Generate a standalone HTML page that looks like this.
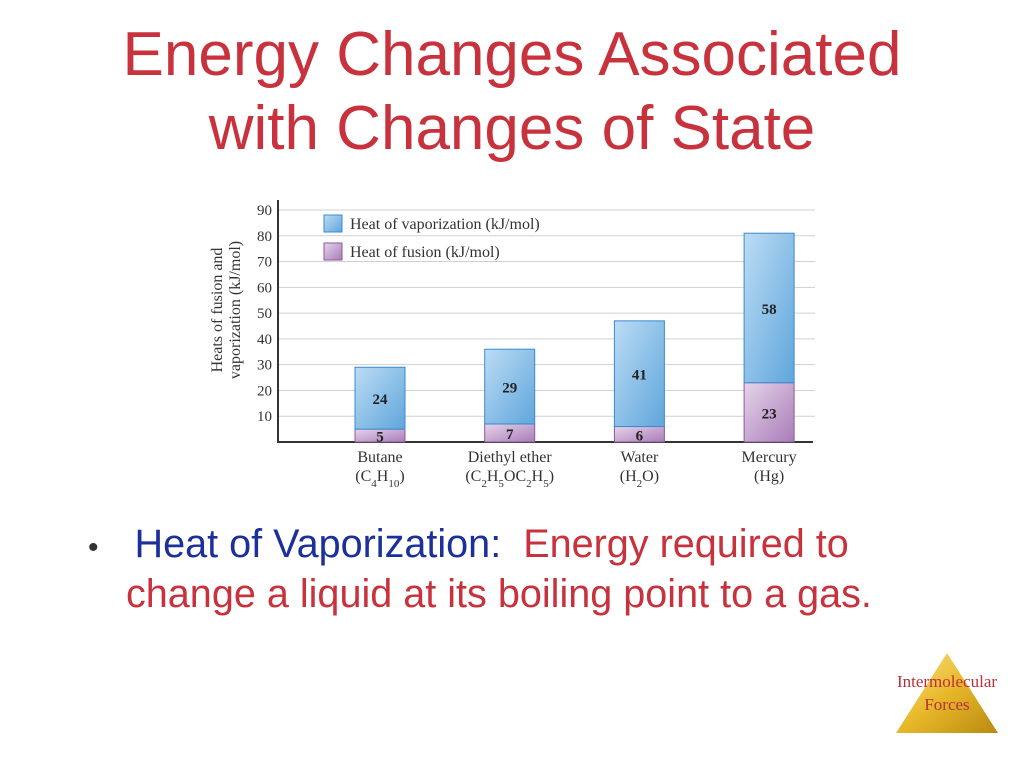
<!DOCTYPE html>
<html><head><meta charset="utf-8"><style>
body{margin:0;width:1024px;height:768px;background:#fff;overflow:hidden;position:relative;font-family:"Liberation Sans",sans-serif}
.title{position:absolute;left:0;width:1024px;top:18px;text-align:center;color:#c8323c;font-size:62px;line-height:74px}
.bullet{position:absolute;left:86px;top:521px;font-size:39.6px;line-height:46px;color:#c8323c;white-space:nowrap}
</style></head><body>
<div class="title">Energy Changes Associated<br>with Changes of State</div>
<svg id="chart" width="1024" height="768" style="position:absolute;left:0;top:0" font-family="Liberation Serif, serif">
<defs>
<linearGradient id="gv" x1="0" y1="0" x2="1" y2="1"><stop offset="0" stop-color="#bcdcf4"/><stop offset="1" stop-color="#5fa6dc"/></linearGradient>
<linearGradient id="gf" x1="0" y1="0" x2="1" y2="1"><stop offset="0" stop-color="#e6d4ea"/><stop offset="1" stop-color="#a87cb8"/></linearGradient>
<linearGradient id="gt" x1="0" y1="0" x2="1" y2="1"><stop offset="0" stop-color="#fbe58a"/><stop offset="0.5" stop-color="#e8b82a"/><stop offset="1" stop-color="#b88a10"/></linearGradient>
</defs>
</svg>
<div class="bullet"><span style="color:#333;font-size:30px;position:relative;left:2px">•</span><span style="display:inline-block;width:38px"></span><span style="color:#1c2f9a">Heat of Vaporization:</span>&nbsp; Energy required to<br><span style="padding-left:40px">change a liquid at its boiling point to a gas.</span></div>
<script>
const categories=["Butane","Diethyl ether","Water","Mercury"];
const formulas=['(C<tspan baseline-shift="sub" font-size="11">4</tspan>H<tspan baseline-shift="sub" font-size="11">10</tspan>)','(C<tspan baseline-shift="sub" font-size="11">2</tspan>H<tspan baseline-shift="sub" font-size="11">5</tspan>OC<tspan baseline-shift="sub" font-size="11">2</tspan>H<tspan baseline-shift="sub" font-size="11">5</tspan>)','(H<tspan baseline-shift="sub" font-size="11">2</tspan>O)','(Hg)'];
const fusion=[5,7,6,23];
const vaporization=[24,29,41,58];
const yTicks=[10,20,30,40,50,60,70,80,90];
const ns="http://www.w3.org/2000/svg";
const svg=document.getElementById('chart');
const x0=278,x1=815,yb=442,yt=210;
const y=v=>yb-(yb-yt)*v/90;
const xc=i=>380+i*129.7;
function mk(t,a,p){const e=document.createElementNS(ns,t);for(const k in a)e.setAttribute(k,a[k]);(p||svg).appendChild(e);return e;}
yTicks.forEach(t=>{
 const g=mk('line',{x1:x0,x2:x1,y1:y(t),y2:y(t),stroke:'#d0d0d0','stroke-width':1});
 
 
 const l=mk('text',{x:272,y:y(t)+5,'text-anchor':'end','font-size':15,fill:'#333'});l.textContent=t;
 
 
});
const ax=mk('line',{x1:x0,x2:x0,y1:200,y2:yb+1,stroke:'#333','stroke-width':2});


const bx=mk('line',{x1:x0-1,x2:x1-2,y1:yb,y2:yb,stroke:'#333','stroke-width':2});


const yt1=mk('text',{transform:'translate(222,310) rotate(-90)','text-anchor':'middle','font-size':16,fill:'#333'});yt1.textContent='Heats of fusion and';


const yt2=mk('text',{transform:'translate(240,310) rotate(-90)','text-anchor':'middle','font-size':16,fill:'#333'});yt2.textContent='vaporization (kJ/mol)';


categories.forEach((c,i)=>{
 const cx=xc(i),w=50;
 const f=mk('rect',{x:cx-w/2,y:y(fusion[i]),width:w,height:y(0)-y(fusion[i]),fill:'url(#gf)',stroke:'#8a5a9a','stroke-width':1});
 
 
 const v=mk('rect',{x:cx-w/2,y:y(fusion[i]+vaporization[i]),width:w,height:y(fusion[i])-y(fusion[i]+vaporization[i]),fill:'url(#gv)',stroke:'#3a8ad0','stroke-width':1});
 
 
 const fl=mk('text',{x:cx,y:(y(0)+y(fusion[i]))/2+6,'text-anchor':'middle','font-size':15,'font-weight':'bold',fill:'#222'});fl.textContent=fusion[i];
 
 
 const vl=mk('text',{x:cx,y:(y(fusion[i])+y(fusion[i]+vaporization[i]))/2+6,'text-anchor':'middle','font-size':15,'font-weight':'bold',fill:'#222'});vl.textContent=vaporization[i];
 
 
 const cl=mk('text',{x:cx,y:462,'text-anchor':'middle','font-size':16,fill:'#333'});cl.textContent=c;
 
 
 const fm=mk('text',{x:cx,y:481,'text-anchor':'middle','font-size':16,fill:'#333'});fm.innerHTML=formulas[i];
 
 
});
[['url(#gv)','#3a8ad0','Heat of vaporization (kJ/mol)',215],['url(#gf)','#8a5a9a','Heat of fusion (kJ/mol)',243]].forEach(([fl,st,t,yy],k)=>{
 const r=mk('rect',{x:324,y:yy,width:18,height:17,fill:fl,stroke:st});
 
 
 const tx=mk('text',{x:350,y:yy+14,'font-size':16,fill:'#333'});tx.textContent=t;
 
 
});
const tri=mk('polygon',{points:'947,653 896,733 998,733',fill:'url(#gt)'});


const t1=mk('text',{x:947,y:687,'text-anchor':'middle','font-size':17,fill:'#b8303a'});t1.textContent='Intermolecular';


const t2=mk('text',{x:947,y:710,'text-anchor':'middle','font-size':17,fill:'#b8303a'});t2.textContent='Forces';


</script>
</body></html>
